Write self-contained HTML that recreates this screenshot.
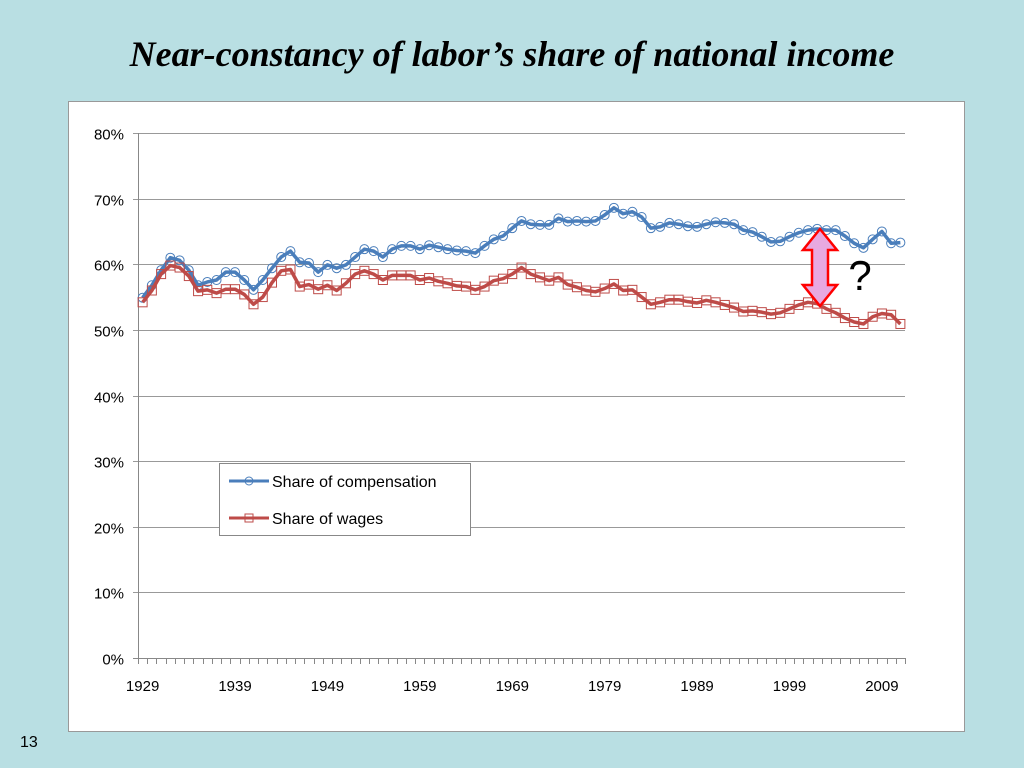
<!DOCTYPE html>
<html><head><meta charset="utf-8"><style>
body{margin:0;width:1024px;height:768px;background:#b9dfe3;overflow:hidden;font-family:"Liberation Sans",sans-serif}
#title{position:absolute;left:0;top:33px;width:1024px;text-align:center;font-family:"Liberation Serif",serif;font-style:italic;font-weight:bold;font-size:36px;color:#000}
#pg{position:absolute;left:20px;top:734px;font-size:16px}
svg{position:absolute;left:0;top:0}
</style></head><body>
<div id="title">Near-constancy of labor’s share of national income</div>
<div id="pg">13</div>
<svg width="1024" height="768" id="chart">
<rect x="68.5" y="101.5" width="896" height="630" fill="#fff" stroke="#999"/>
<g id="grid"></g><g id="axes"></g><g id="series"></g>
<g>
<polygon points="820,229 837,250 828,250 828,285 837,285 820,306 803,285 812,285 812,250 803,250" fill="#e8a8e0" stroke="#f00" stroke-width="2.5" stroke-linejoin="miter"/>
</g>
<text x="860" y="290" font-size="42" font-family="Liberation Sans,sans-serif" text-anchor="middle">?</text>
<g>
<rect x="219.5" y="463.5" width="251" height="72" fill="#fff" stroke="#888"/>
<g>
<line x1="229" y1="481" x2="269" y2="481" stroke="#4a7ebb" stroke-width="3"/>
<circle cx="249" cy="481" r="4" fill="none" stroke="#4a7ebb"/>
<text x="272" y="487" font-size="16">Share of compensation</text></g>
<g>
<line x1="229" y1="518" x2="269" y2="518" stroke="#be4b48" stroke-width="3"/>
<rect x="245" y="514" width="8" height="8" fill="none" stroke="#be4b48"/>
<text x="272" y="524" font-size="16">Share of wages</text></g>
</g>
</svg>
<script>
const years=[];for(let y=1929;y<=2011;y++)years.push(y);
const compensation=[54.9,56.8,59.1,61.0,60.6,59.1,56.8,57.3,57.6,58.8,58.8,57.6,56.1,57.6,59.4,61.1,62.0,60.3,60.2,58.8,59.9,59.4,59.9,61.1,62.3,62.0,61.1,62.3,62.8,62.8,62.3,62.9,62.6,62.3,62.1,62.0,61.7,62.8,63.8,64.3,65.5,66.6,66.1,66.0,66.0,67.0,66.5,66.6,66.5,66.6,67.5,68.6,67.7,68.0,67.2,65.5,65.7,66.3,66.1,65.8,65.7,66.1,66.4,66.3,66.1,65.2,64.9,64.2,63.4,63.5,64.2,64.8,65.2,65.4,65.2,65.2,64.3,63.2,62.5,63.8,65.0,63.2,63.3];
const wages=[54.2,56.0,58.5,59.8,59.5,58.2,55.9,56.1,55.6,56.2,56.2,55.4,53.9,55.0,57.2,59.0,59.2,56.6,56.9,56.2,56.8,56.0,57.1,58.5,59.0,58.5,57.6,58.3,58.3,58.3,57.6,57.9,57.4,57.1,56.7,56.6,56.1,56.6,57.5,57.8,58.5,59.5,58.5,58.0,57.5,58.0,56.9,56.5,56.0,55.8,56.3,57.0,56.0,56.1,55.0,53.9,54.2,54.6,54.6,54.3,54.1,54.5,54.2,53.8,53.4,52.8,52.9,52.7,52.4,52.6,53.2,53.8,54.2,54.0,53.2,52.6,51.8,51.2,50.9,52.0,52.5,52.3,50.9];
const yTicks=[0,10,20,30,40,50,60,70,80];
const xLabels=[1929,1939,1949,1959,1969,1979,1989,1999,2009];
const X0=138,X1=905,Y0=658,Y1=133;
const bw=(X1-X0)/years.length;
const xs=i=>X0+bw*(i+0.5);
const ys=v=>Y0-(v/80)*(Y0-Y1);
const NS='http://www.w3.org/2000/svg';
function mk(tag,attrs,parent){const e=document.createElementNS(NS,tag);for(const k in attrs)e.setAttribute(k,attrs[k]);document.getElementById(parent).appendChild(e);return e;}
yTicks.forEach(t=>{
  const y=Math.round(ys(t))+0.5;
  const l=mk('line',{x1:X0-5,x2:X1,y1:y,y2:y,stroke:t===0?'#888':'#999','stroke-width':1},'grid');
  
  
  const tx=mk('text',{x:X0-14,y:y+6,'text-anchor':'end','font-size':15},'axes');
  tx.textContent=t+'%';
  
  
});
const ya=mk('line',{x1:X0+0.5,x2:X0+0.5,y1:Y1,y2:Y0,stroke:'#888'},'axes');


for(let i=0;i<=years.length;i++){
  const x=Math.round(X0+bw*i)+0.5;
  const t=mk('line',{x1:x,x2:x,y1:Y0,y2:Y0+6,stroke:'#888'},'axes');
  
  
}
xLabels.forEach(yr=>{
  const i=years.indexOf(yr);
  const tx=mk('text',{x:xs(i),y:Y0+33,'text-anchor':'middle','font-size':15},'axes');
  tx.textContent=yr;
  
  
});
function draw(vals,color,name,marker){
  const pl=mk('polyline',{points:vals.map((v,i)=>xs(i)+','+ys(v)).join(' '),fill:'none',stroke:color,'stroke-width':3.5,'stroke-linejoin':'round'},'series');
  
  
  vals.forEach((v,i)=>{
    let m;
    if(marker==='c')m=mk('circle',{cx:xs(i),cy:ys(v),r:4.5,fill:'none',stroke:color,'stroke-width':1},'series');
    else m=mk('rect',{x:xs(i)-4.5,y:ys(v)-4.5,width:9,height:9,fill:'none',stroke:color,'stroke-width':1},'series');
    
    
  });
}
draw(compensation,'#4a7ebb','compensation','c');
draw(wages,'#be4b48','wages','s');
</script>
</body></html>
